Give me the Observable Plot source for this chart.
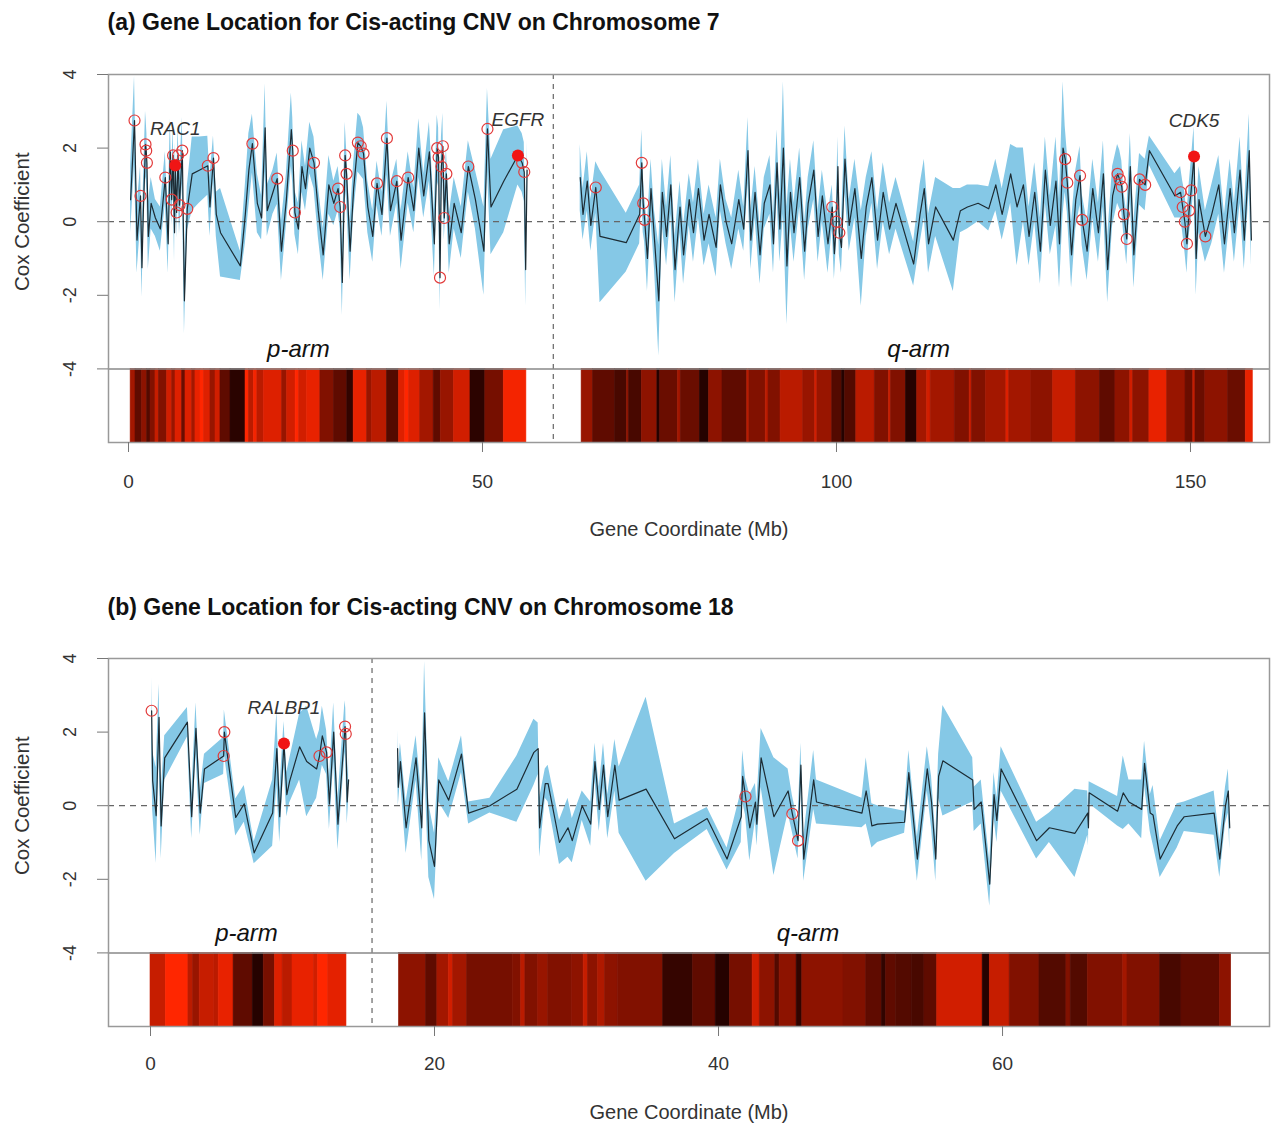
<!DOCTYPE html>
<html><head><meta charset="utf-8">
<script src="https://cdn.jsdelivr.net/npm/d3@7"></script>
<script src="https://cdn.jsdelivr.net/npm/@observablehq/plot@0.6"></script>
<style>body{margin:0;background:#fff} #chart > *{display:block}</style>
</head><body><div id="chart"></div>
<script>
// ---------- Panel (a): Chromosome 7 ----------
const aTitle = "(a) Gene Location for Cis-acting CNV on Chromosome 7";
const aCentromere = 60;
const aPos = [0.3,0.85,1.2,1.7,1.9,2.1,2.4,2.5,2.6,2.8,3.2,3.8,4.5,5.2,5.6,5.9,6.1,6.3,6.5,6.6,6.8,7.0,7.2,7.6,7.9,8.3,9.0,10.0,11.2,11.5,12.0,12.4,13.0,15.8,16.5,17.0,17.5,18.2,18.8,19.3,19.6,20.4,21.0,21.6,22.3,23.0,23.2,23.5,24.0,24.5,25.0,25.6,26.2,26.8,27.5,28.3,29.0,29.6,29.9,30.2,30.6,30.8,31.3,31.8,32.4,32.8,33.2,33.8,34.5,35.1,35.8,36.5,37.0,37.9,38.5,39.5,40.3,41.0,41.7,42.5,43.2,43.6,43.8,44.0,44.2,44.4,44.6,44.9,45.3,46.0,47.0,48.0,49.0,50.2,50.7,51.2,53.0,55.0,55.6,55.9,56.1,56.3,
  63.8,64.2,64.8,65.3,66.0,66.6,70.3,72.2,72.5,72.7,72.9,73.3,73.8,74.3,74.9,75.4,76.0,76.6,77.2,77.9,78.4,79.2,79.8,80.5,81.3,82.0,83.0,83.6,84.4,85.2,86.2,86.9,87.5,87.9,88.5,89.2,89.8,90.6,91.1,91.6,92.0,92.5,93.0,93.5,94.0,94.8,95.5,96.0,96.8,97.4,98.0,98.8,99.4,99.7,100.0,100.2,100.4,100.7,101.2,101.8,102.6,103.5,104.2,105.0,105.8,106.6,107.5,108.4,110.9,111.8,112.4,113.0,114.0,116.5,117.5,118.5,120.0,121.5,122.5,123.4,124.6,125.5,126.4,127.2,128.0,128.8,129.5,130.2,131.0,131.5,132.0,132.3,132.6,133.2,133.8,134.4,134.7,135.4,136.2,137.0,137.7,138.3,139.0,139.7,140.0,140.3,140.6,141.0,141.5,142.0,142.8,143.6,144.2,147.8,148.6,148.9,149.2,149.5,149.8,150.1,150.5,150.8,151.2,152.1,153.0,154.0,154.8,155.6,156.2,157.0,157.6,158.3,158.6];
const aCoef = [0.6,2.75,-0.5,0.7,-1.25,0.3,2.1,1.93,1.6,-0.4,0.5,0.1,-0.2,1.2,-0.6,1.9,0.6,1.8,-0.3,1.53,0.25,1.8,0.45,1.93,-2.15,0.35,1.3,1.4,1.52,0.4,1.73,0.2,-0.3,-1.2,0.2,1.4,2.12,0.5,0.1,2.55,0.3,0.8,1.17,-0.8,0.6,2.5,1.93,0.25,-0.2,1.5,0.9,2.0,1.6,0.3,-0.9,1.0,0.5,0.9,0.4,-1.65,1.8,1.3,-0.8,0.9,2.15,2.05,1.85,0.4,-0.4,1.04,0.2,2.27,0.3,1.1,-0.5,1.2,0.3,2.0,0.7,1.9,-0.6,2.0,1.75,-1.52,1.5,2.05,0.1,1.3,-0.6,0.5,-0.3,1.5,0.6,-0.8,2.52,0.4,1.1,1.8,1.6,1.35,-1.3,1.4,
  1.2,0.2,1.1,-0.1,0.93,-0.4,-0.57,0.2,1.6,0.5,0.05,-1.0,0.9,-0.5,-2.15,0.8,-0.4,1.0,-1.3,0.4,-0.9,0.6,-0.3,0.9,-0.5,0.2,-0.7,1.0,0.0,-0.6,0.6,-0.2,1.93,-0.5,0.8,-0.9,0.5,1.0,-0.6,1.6,-0.2,2.0,-1.2,0.8,-0.3,1.2,-0.8,0.5,1.4,-0.4,0.7,-0.6,0.4,-0.87,0.0,1.5,-0.3,-0.7,1.7,-0.1,0.9,-1.0,0.4,1.2,-0.5,0.8,-0.2,0.5,-1.15,0.2,0.9,-0.6,0.4,-0.5,0.3,0.4,0.5,0.35,1.0,0.2,1.3,0.4,1.0,-0.4,0.8,-0.8,1.4,-0.1,1.1,-0.6,2.0,1.7,1.06,-0.9,0.6,1.25,0.05,-0.8,0.9,-0.3,1.3,-1.3,0.7,1.3,1.15,0.95,0.2,-0.47,1.5,-0.9,1.15,1.0,1.93,0.7,0.8,0.4,0.0,-0.6,0.3,0.85,1.77,-1.0,0.6,-0.4,0.2,1.0,-0.6,0.9,-0.3,1.4,-0.5,1.93,-0.5];
const aHalf = [0.9,1.2,0.9,0.8,0.8,0.7,0.9,0.8,0.8,0.9,0.7,0.5,0.6,0.7,0.8,0.9,0.7,0.8,0.8,0.6,0.7,0.8,0.8,0.9,0.9,0.6,1.0,0.9,0.8,0.8,0.6,0.6,1.2,0.4,0.8,1.0,0.8,0.8,0.6,1.2,0.7,0.6,0.7,0.8,0.7,1.0,0.9,0.6,0.7,0.7,0.6,0.7,0.7,0.7,0.7,0.8,0.6,0.6,0.6,0.9,0.9,0.7,0.8,0.7,0.8,0.8,0.7,0.7,0.7,0.6,0.6,1.0,0.7,0.6,0.8,0.7,0.6,0.8,0.6,0.8,0.9,0.9,0.8,0.9,0.8,0.9,0.6,0.7,0.8,0.7,0.7,0.7,0.8,1.2,1.1,1.3,1.4,0.8,0.8,0.8,1.0,0.8,
  0.9,0.7,0.8,0.7,0.7,1.8,0.8,0.8,0.9,0.8,0.6,0.9,0.8,0.8,1.5,0.9,0.8,0.8,0.9,0.7,0.8,0.7,0.8,0.8,0.7,0.8,0.8,0.7,0.6,0.7,0.8,0.6,0.9,0.8,0.7,0.8,0.7,0.8,0.8,0.9,0.9,1.8,1.6,0.9,0.8,0.8,0.8,0.7,0.8,0.7,0.7,0.8,0.6,0.7,0.6,0.8,0.6,0.7,0.9,0.7,0.8,1.3,0.8,0.7,0.8,0.8,0.7,0.7,0.6,0.8,0.8,0.8,0.8,1.4,0.6,0.6,0.5,0.6,0.7,0.7,0.8,1.6,1.0,0.8,0.8,0.9,0.9,0.8,1.2,1.2,1.8,0.9,0.8,0.9,0.8,0.8,0.7,0.8,0.8,0.8,0.9,0.9,0.8,0.8,0.8,0.7,0.6,0.7,0.9,0.9,0.7,0.7,0.4,0.6,0.7,0.7,0.8,0.8,0.7,0.8,0.8,1.0,0.9,0.7,0.8,0.8,0.8,0.8,0.8,0.9,0.8,1.0,0.7];
const aSig = [0,1,0,1,0,0,1,1,1,0,0,0,0,1,0,0,1,1,0,2,1,1,1,1,0,1,0,0,1,0,1,0,0,0,0,0,1,0,0,0,0,0,1,0,0,0,1,1,0,0,0,0,1,0,0,0,0,1,1,0,1,1,0,0,1,1,1,0,0,1,0,1,0,1,0,1,0,0,0,0,0,1,1,1,1,1,1,1,0,0,0,1,0,0,1,0,0,2,1,1,0,0,
  0,0,0,0,1,0,0,0,1,1,1,0,0,0,0,0,0,0,0,0,0,0,0,0,0,0,0,0,0,0,0,0,0,0,0,0,0,0,0,0,0,0,0,0,0,0,0,0,0,0,0,0,1,0,1,0,1,0,0,0,0,0,0,0,0,0,0,0,0,0,0,0,0,0,0,0,0,0,0,0,0,0,0,0,0,0,0,0,0,0,0,1,1,0,0,1,1,0,0,0,0,0,0,1,1,1,1,1,0,0,1,1,0,0,1,1,1,1,1,1,2,0,0,1,0,0,0,0,0,0,0,0,0];
const aNames = ["RAC1", "EGFR", "CDK5"];
const aHeatEdge = [0.3,0.99,1.93,2.64,3.11,3.81,4.28,5.46,6.17,6.64,7.58,8.05,8.99,9.46,10.17,10.64,11.58,12.29,12.99,14.41,16.53,17.0,17.7,18.2,19.1,21.7,22.4,23.6,24.1,25.2,27.1,29.0,30.9,31.8,33.7,34.4,36.5,38.2,39.1,39.6,41.2,43.1,44.1,45.95,48.3,50.4,53.0,56.2,
  64.0,65.6,68.7,70.4,70.7,72.5,74.7,75.1,77.6,78.0,80.7,82.0,83.9,87.4,87.7,90.0,90.4,92.1,95.3,97.0,97.3,99.4,100.8,101.2,102.8,105.4,107.4,107.7,109.8,111.4,112.8,113.3,116.7,118.8,119.1,121.1,124.0,124.4,127.5,130.6,133.8,137.2,139.4,141.5,141.9,144.2,146.7,149.3,150.4,150.7,152.1,155.3,157.8,158.8];
const aHeatVal = [0.6,0.3,0.5,0.25,0.45,0.75,0.45,0.8,0.55,0.85,0.35,0.85,0.6,0.9,1.0,0.85,0.55,0.8,0.3,0.07,1.0,0.7,0.95,0.7,0.85,0.55,0.8,1.0,0.8,0.9,0.45,0.3,0.1,0.9,0.55,0.7,0.25,0.85,1.0,0.85,0.6,0.3,0.55,0.8,0.08,0.4,0.95,null,
  0.55,0.3,0.2,0.5,0.2,0.5,0.05,0.35,0.6,0.35,0.05,0.5,0.3,0.7,0.45,0.7,0.45,0.7,0.55,0.8,0.55,0.25,0.05,0.25,0.7,0.45,0.75,0.45,0.05,0.6,0.8,0.6,0.45,0.75,0.45,0.6,0.85,0.6,0.5,0.75,0.5,0.3,0.5,0.8,0.5,0.9,0.55,0.35,0.75,0.35,0.5,0.35,0.9];
const aArmNames = ["p-arm", "q-arm"];
const aArmX = [24.0, 111.6];
const aXTicks = [0, 50, 100, 150];

// ---------- Panel (b): Chromosome 18 ----------
const bTitle = "(b) Gene Location for Cis-acting CNV on Chromosome 18";
const bCentromere = 15.6;
const bPos = [0.08,0.15,0.4,0.6,0.75,1.0,2.6,2.9,3.2,3.5,3.8,5.15,5.2,6.0,6.6,7.3,8.6,8.9,9.1,9.4,9.6,9.8,10.5,11.0,11.7,11.9,12.1,12.4,12.6,12.9,13.2,13.7,13.75,13.85,13.95,
  17.4,17.45,17.6,18.0,18.7,19.1,19.3,19.6,20.0,20.3,21.0,21.9,22.4,23.9,25.8,27.0,27.3,27.4,27.8,28.0,28.8,29.4,29.7,30.4,31.0,31.3,31.6,31.9,32.2,32.7,33.0,34.9,36.9,39.2,40.6,41.6,41.7,41.9,42.2,42.6,42.7,43.0,43.9,44.9,45.2,45.6,45.8,46.0,46.7,46.9,50.1,50.4,50.8,51.2,53.1,53.4,54.0,54.7,55.0,55.3,55.5,55.8,57.9,58.0,58.5,59.1,59.4,59.6,59.9,62.4,63.3,65.1,66.0,66.05,66.1,68.1,68.5,68.9,69.8,70.0,70.4,70.6,71.1,72.3,72.8,74.9,75.3,75.7,75.9,76.0];
const bCoef = [2.58,0.68,-0.27,2.4,-0.55,1.3,2.27,-0.3,2.1,-0.2,1.0,1.35,2.0,-0.32,0.05,-1.28,-0.2,1.55,-0.3,1.69,0.3,0.67,1.6,1.2,1.0,1.35,1.9,1.45,0.05,2.0,-0.5,2.15,1.95,0.1,0.7,
  1.55,0.5,1.2,-0.6,1.3,-0.6,2.52,-0.95,-1.65,0.7,0.15,1.4,-0.2,0.0,0.45,1.45,1.55,-0.6,0.6,0.6,-1.0,-0.6,-0.95,0.0,-0.5,1.2,-0.1,1.1,-0.3,1.1,0.15,0.45,-0.9,-0.35,-1.45,-0.3,0.8,0.25,-0.6,0.1,-0.5,1.3,-0.3,0.4,-0.22,-0.95,1.1,-1.45,0.7,0.1,-0.2,0.4,-0.55,-0.5,-0.45,0.9,-1.45,1.0,0.1,-1.45,0.8,1.22,0.7,-0.1,0.1,-2.13,0.3,-0.4,1.0,-0.95,-0.6,-0.75,-0.2,-0.6,0.35,-0.15,0.35,0.1,-0.1,1.15,-0.2,-0.25,-1.45,-0.55,-0.3,-0.2,-1.45,0.0,0.4,-0.6];
const bHalf = [0.9,0.8,1.3,0.9,0.9,0.6,0.4,0.6,0.7,0.6,0.4,0.5,0.6,0.5,0.5,0.3,0.9,1.0,0.7,0.6,0.6,0.6,0.9,1.5,0.8,0.7,0.8,0.6,0.7,0.8,0.7,0.7,0.7,0.6,0.6,
  0.5,0.5,0.5,0.7,0.6,0.9,1.4,1.0,0.9,0.6,0.5,0.5,0.3,0.2,0.9,0.9,0.7,0.8,0.4,0.5,0.6,0.8,0.6,0.4,0.6,0.5,0.6,0.6,0.6,0.7,0.9,2.5,0.4,0.3,0.3,0.7,0.7,0.5,0.9,0.5,0.6,0.8,1.6,0.6,0.5,0.5,0.6,0.6,0.8,0.6,0.4,0.9,0.6,0.5,0.3,0.6,0.6,0.6,0.7,0.6,0.6,1.5,0.6,0.6,0.6,0.6,0.6,0.6,0.6,0.5,0.4,1.2,0.6,0.5,0.3,0.4,1.0,0.6,0.8,0.6,0.5,0.8,0.5,0.6,0.4,0.6,0.5,0.5,0.6,0.6];
const bSig = [1,0,0,0,0,0,0,0,0,0,0,1,1,0,0,0,0,0,0,2,0,0,0,0,0,1,0,1,0,0,0,1,1,0,0,
  0,0,0,0,0,0,0,0,0,0,0,0,0,0,0,0,0,0,0,0,0,0,0,0,0,0,0,0,0,0,0,0,0,0,0,0,0,1,0,0,0,0,0,0,1,1,0,0,0,0,0,0,0,0,0,0,0,0,0,0,0,0,0,0,0,0,0,0,0,0,0,0,0,0,0,0,0,0,0,0,0,0,0,0,0,0,0,0,0,0];
const bNames = ["RALBP1"];
const bHeatEdge = [0.0,1.08,2.67,3.0,3.46,4.5,4.8,5.85,7.2,7.97,8.76,9.3,10.0,11.5,11.8,12.5,13.8,
  17.5,19.4,20.2,21.0,21.3,22.3,25.5,26.1,26.4,27.3,28.0,29.7,30.5,30.8,31.5,32.0,32.9,36.1,38.2,39.8,40.8,42.4,42.9,44.0,44.3,45.5,45.9,48.8,50.4,51.5,51.8,52.5,53.6,54.5,55.4,58.6,59.1,60.5,62.6,64.5,64.8,66.0,68.5,68.8,71.1,72.6,75.3,76.1];
const bHeatVal = [0.75,1.0,0.7,0.55,0.75,0.7,0.9,0.3,0.05,0.4,0.85,0.7,0.9,0.8,1.0,0.88,null,
  0.5,0.3,0.6,0.8,0.6,0.4,0.45,0.7,0.45,0.55,0.45,0.5,0.75,0.5,0.65,0.5,0.45,0.12,0.3,0.05,0.4,0.8,0.5,0.25,0.5,0.1,0.5,0.45,0.3,0.1,0.3,0.25,0.2,0.3,0.8,0.05,0.75,0.45,0.25,0.45,0.25,0.45,0.6,0.45,0.2,0.3,0.5];
const bArmNames = ["p-arm", "q-arm"];
const bArmX = [6.76, 46.3];
const bXTicks = [0, 20, 40, 60];

const yTicks = [-4, -2, 0, 2, 4];
const armLabelY = -3.46;
const heatRange = ["#1a0000", "#ff2600"];
const FONT = "'Liberation Sans', Arial, Helvetica, sans-serif";

function panel(o) {
  const genes = o.pos.map((p, i) => ({pos: p, coef: o.coef[i], lo: o.coef[i] - o.half[i], hi: o.coef[i] + o.half[i], sig: o.sig[i], arm: p < o.cen ? "p" : "q"}));
  const named = genes.filter(d => d.sig === 2).map((d, i) => ({...d, name: o.names[i]}));
  const heat = [];
  for (let i = 0; i < o.heatVal.length; i++) {
    if (o.heatVal[i] != null) heat.push({x1: o.heatEdge[i], x2: o.heatEdge[i + 1], v: o.heatVal[i]});
  }
  const arms = o.armNames.map((n, i) => ({name: n, x: o.armX[i], y: armLabelY}));
  return Plot.plot({
    width: 1271, height: o.height,
    marginLeft: 108, marginRight: 2, marginTop: o.mt, marginBottom: o.mb,
    x: {domain: o.xDomain, label: null},
    y: {domain: [-6, 4], label: null},
    color: {type: "linear", domain: [0, 1], range: heatRange, interpolate: "rgb"},
    style: {fontFamily: FONT, background: "#fff", overflow: "visible"},
    marks: [
      Plot.rect(heat, {x1: "x1", x2: "x2", y1: () => -6, y2: () => -4, fill: "v", stroke: "v", strokeWidth: 0.6}),
      Plot.areaY(genes, {x: "pos", y1: "lo", y2: "hi", z: "arm", fill: "#85c8e6"}),
      Plot.ruleY([0], {stroke: "#666", strokeDasharray: "6,5", strokeWidth: 1.3}),
      Plot.ruleX([o.cen], {stroke: "#666", strokeDasharray: "5,5", strokeWidth: 1.2}),
      Plot.lineY(genes, {x: "pos", y: "coef", z: "arm", stroke: "#1c2b33", strokeWidth: 1.2}),
      Plot.dot(genes.filter(d => d.sig === 1), {x: "pos", y: "coef", r: 5.5, stroke: "#e23a3a", strokeWidth: 1.2}),
      Plot.dot(named, {x: "pos", y: "coef", r: 6, fill: "#f01515"}),
      Plot.text(named, {x: "pos", y: "coef", text: "name", dy: -36, fontStyle: "italic", fontSize: 19, fill: "#333"}),
      Plot.text(arms, {x: "x", y: "y", text: "name", fontStyle: "italic", fontSize: 24, fill: "#111"}),
      Plot.ruleY([-4], {stroke: "#888", strokeWidth: 1.5}),
      Plot.frame({stroke: "#999", strokeWidth: 1.5}),
      Plot.axisY({ticks: yTicks, tickSize: 11, tickFormat: () => "", stroke: "#777"}),
      Plot.text(yTicks, {y: d => d, text: d => String(d), frameAnchor: "left", dx: -38, rotate: -90, textAnchor: "middle", lineAnchor: "middle", fontSize: 18, fill: "#333"}),
      Plot.axisX({ticks: o.xTicks, tickSize: 10, tickFormat: () => "", stroke: "#777"}),
      Plot.text(o.xTicks, {x: d => d, text: d => String(d), frameAnchor: "bottom", dy: o.tickDy, lineAnchor: "middle", fontSize: 19, fill: "#333"}),
      Plot.text(["Gene Coordinate (Mb)"], {text: d => d, frameAnchor: "bottom", dy: o.labDy, lineAnchor: "middle", fontSize: 20, fill: "#333"}),
      Plot.text(["Cox Coefficient"], {text: d => d, y: () => 0, frameAnchor: "left", dx: -86, rotate: -90, textAnchor: "middle", lineAnchor: "middle", fontSize: 20.5, fill: "#333"}),
      Plot.text([o.title], {text: d => d, frameAnchor: "top-left", dx: -1, dy: o.titleDy, textAnchor: "start", lineAnchor: "middle", fontWeight: "bold", fontSize: 23, fill: "#111"})
    ]
  });
}

const chart = document.getElementById("chart");
chart.appendChild(panel({
  title: aTitle, cen: aCentromere, pos: aPos, coef: aCoef, half: aHalf, sig: aSig, names: aNames,
  heatEdge: aHeatEdge, heatVal: aHeatVal, armNames: aArmNames, armX: aArmX, xTicks: aXTicks,
  xDomain: [-2.825, 161.16], height: 585, mt: 74, mb: 143, tickDy: 39, labDy: 87, titleDy: -52
}));
chart.appendChild(panel({
  title: bTitle, cen: bCentromere, pos: bPos, coef: bCoef, half: bHalf, sig: bSig, names: bNames,
  heatEdge: bHeatEdge, heatVal: bHeatVal, armNames: bArmNames, armX: bArmX, xTicks: bXTicks,
  xDomain: [-2.958, 78.8], height: 538, mt: 73, mb: 97, tickDy: 37, labDy: 86, titleDy: -51
}));
</script>
</body></html>
